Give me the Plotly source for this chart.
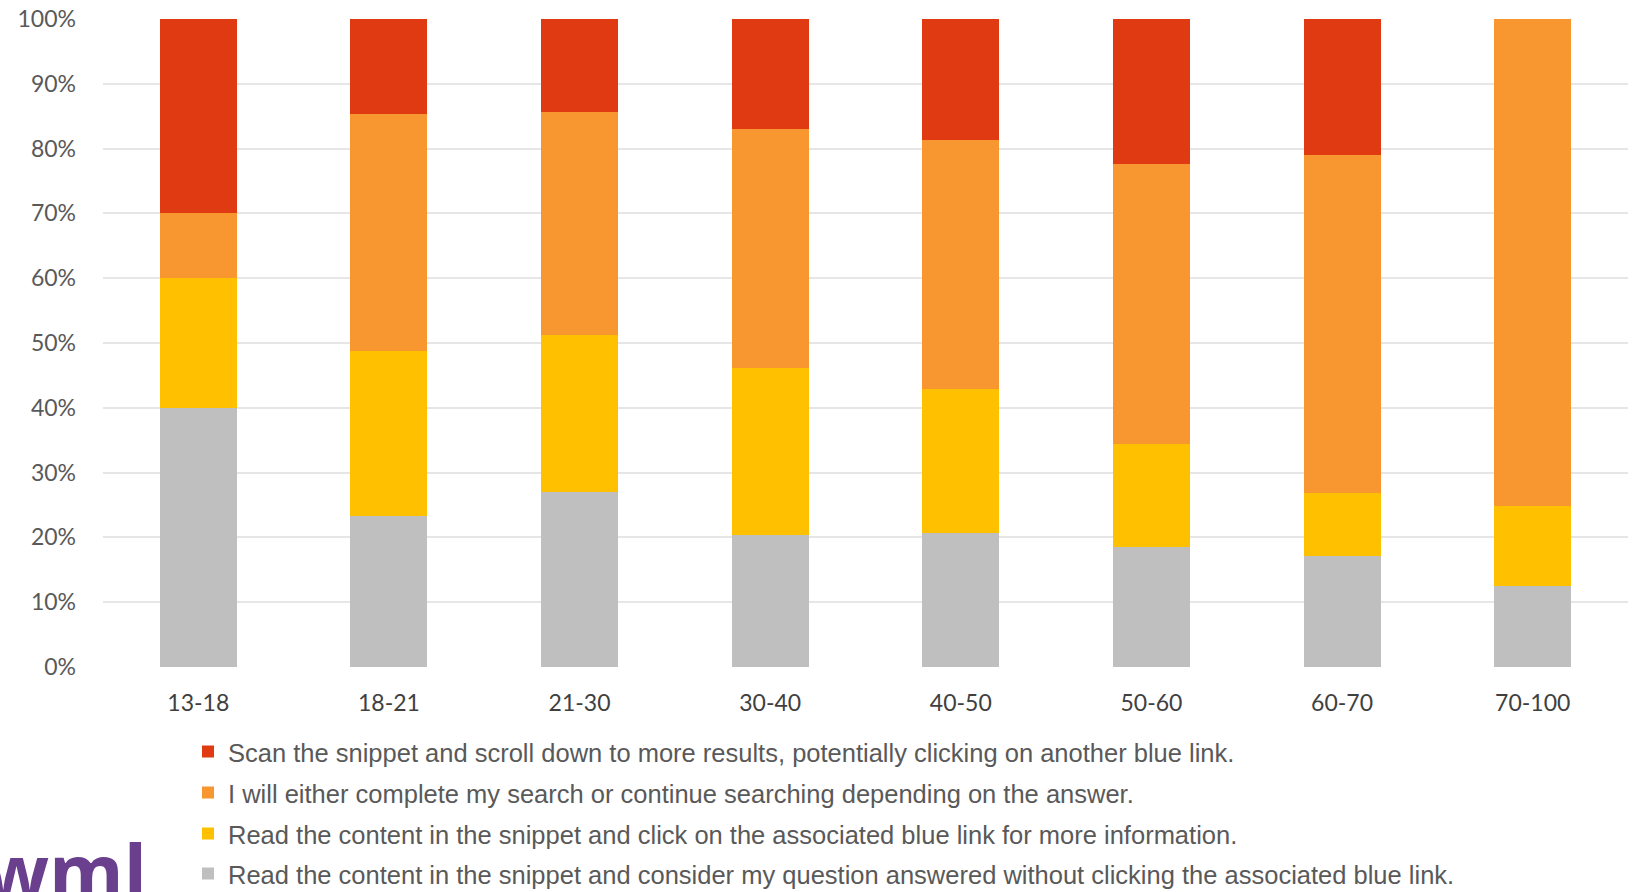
import plotly.graph_objects as go

categories = ["13-18", "18-21", "21-30", "30-40", "40-50", "50-60", "60-70", "70-100"]

series_names = [
    "Scan the snippet and scroll down to more results, potentially clicking on another blue link.",
    "I will either complete my search or continue searching depending on the answer.",
    "Read the content in the snippet and click on the associated blue link for more information.",
    "Read the content in the snippet and consider my question answered without clicking the associated blue link.",
]

scan_more = [30.0, 14.6, 14.4, 16.9, 18.6, 22.4, 21.0, 0.0]
depends = [10.0, 36.7, 34.4, 37.0, 38.5, 43.2, 52.2, 75.2]
click_link = [20.0, 25.4, 24.2, 25.7, 22.2, 15.9, 9.6, 12.3]
answered = [40.0, 23.3, 27.0, 20.4, 20.7, 18.5, 17.2, 12.5]

colors = ["#DF3A12", "#F8962F", "#FFC000", "#BFBFBF"]

W, H = 1633, 892
L, R, T, B = 103, 5, 19, 225
plot_h = H - T - B

fig = go.Figure()

# stacking order: bottom first
stack = [
    (answered, series_names[3], colors[3], "legend4"),
    (click_link, series_names[2], colors[2], "legend3"),
    (depends, series_names[1], colors[1], "legend2"),
    (scan_more, series_names[0], colors[0], "legend"),
]
for vals, name, col, lg in stack:
    fig.add_trace(go.Bar(
        x=categories, y=vals, name=name,
        marker=dict(color=col, line=dict(width=0)),
        legend=lg,
    ))

def py(pix):
    return (H - B - pix) / plot_h

def px(pix):
    return (pix - L) / (W - L - R)

legend_rows = [752, 793, 834, 874]
leg_common = dict(
    orientation="v", xanchor="left", yanchor="middle",
    font=dict(family="Liberation Sans, Arial, sans-serif", size=25.5, color="#595959"),
    bgcolor="rgba(0,0,0,0)", borderwidth=0, itemwidth=30,
)
legend_x = px(188)

fig.update_layout(
    width=W, height=H,
    margin=dict(l=L, r=R, t=T, b=B, pad=0, autoexpand=False),
    paper_bgcolor="white", plot_bgcolor="white",
    barmode="stack", bargap=0.596,
    showlegend=True,
    legend=dict(x=legend_x, y=py(legend_rows[0]), **leg_common),
    legend2=dict(x=legend_x, y=py(legend_rows[1]), **leg_common),
    legend3=dict(x=legend_x, y=py(legend_rows[2]), **leg_common),
    legend4=dict(x=legend_x, y=py(legend_rows[3]), **leg_common),
    xaxis=dict(
        type="category", showgrid=False, showline=False, zeroline=False,
        ticks="", tickfont=dict(family="Lato, sans-serif", size=23, color="#404040"),
        ticklabelstandoff=20, automargin=False,
    ),
    yaxis=dict(
        range=[0, 100], dtick=10, ticksuffix="%",
        showgrid=True, gridcolor="#E6E6E6", gridwidth=1.5,
        zeroline=False, showline=False, ticks="",
        tickfont=dict(family="Lato, sans-serif", size=23, color="#595959"),
        ticklabelstandoff=26, automargin=False,
    ),
    annotations=[dict(
        text="<b>wml</b>", xref="paper", yref="paper",
        x=px(-18), y=py(816), xanchor="left", yanchor="top",
        showarrow=False,
        font=dict(family="Open Sans, sans-serif", size=76, color="#6A3F8E"),
    )],
)

fig.write_html(
    "out.html",
    config={"displayModeBar": False},
    post_script="document.body.style.margin='0';document.body.style.overflow='hidden';",
)
